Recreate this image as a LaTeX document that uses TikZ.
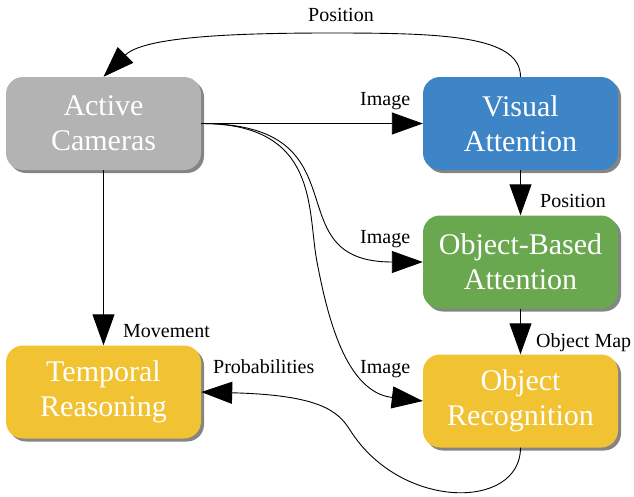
\documentclass[tikz,border=0pt]{standalone}
\usepackage{fontspec}
\setmainfont{Liberation Serif}
\usetikzlibrary{arrows.meta,shadows}
\definecolor{cgray}{HTML}{B3B3B3}
\definecolor{cblue}{HTML}{3D85C6}
\definecolor{cgreen}{HTML}{6AA84F}
\definecolor{cyellow}{HTML}{F1C232}
\definecolor{cshadow}{HTML}{858585}
\begin{document}
\begin{tikzpicture}[x=1pt,y=-1pt,
  box/.style={rounded corners=17pt, minimum width=195pt, minimum height=93pt,
    inner sep=0pt, text=white, font=\fontsize{30}{35}\selectfont, align=center,
    drop shadow={shadow xshift=3pt,shadow yshift=-3pt,fill=cshadow,opacity=1}},
  lbl/.style={inner sep=0pt, anchor=base west, font=\fontsize{20}{24}\selectfont},
  conn/.style={line width=0.9pt, -{Triangle[length=31pt,width=22pt]}}]
\useasboundingbox (0,0) rectangle (634,496);
\node[box, fill=cgray] (ac) at (103.5,123.5) {Active\\Cameras};
\node[box, fill=cblue] (va) at (520.5,123.5) {Visual\\Attention};
\node[box, fill=cgreen] (oba) at (520.5,262) {Object-Based\\Attention};
\node[box, fill=cyellow] (tr) at (103.5,392) {Temporal\\Reasoning};
\node[box, fill=cyellow] (orc) at (520.5,401) {Object\\Recognition};
\coordinate (peak) at (330,33);
\coordinate (midor) at (317,262);
\coordinate (bend) at (350,430);
\draw[conn] (va.north) .. controls (520.5,35) and (440,33) .. (peak)
  .. controls (230,33) and (143.5,37) .. (ac.north);
\draw[conn] (ac.east) -- (va.west);
\draw[conn] (ac.east) .. controls (369,123.5) and (271,262) .. (oba.west);
\draw[conn] (ac.east) .. controls (320,123.5) and (307,210) .. (midor)
  .. controls (327,314) and (345,392) .. (orc.west);
\draw[conn] (ac.south) -- (tr.north);
\draw[conn] (va.south) -- (oba.north);
\draw[conn] (oba.south) -- (orc.north);
\draw[conn] (orc.south) .. controls (520.5,510) and (401,511) .. (bend)
  .. controls (338,411) and (320,395) .. (tr.east);
\node[lbl] (l1) at (308,21) {Position};
\node[lbl] (l2) at (360,105) {Image};
\node[lbl] (l3) at (540,207) {Position};
\node[lbl] (l4) at (360,243) {Image};
\node[lbl] (l5) at (123,337) {Movement};
\node[lbl] (l6) at (536,347) {Object Map};
\node[lbl] (l7) at (213,373) {Probabilities};
\node[lbl] (l8) at (360,373) {Image};
\end{tikzpicture}
\end{document}
